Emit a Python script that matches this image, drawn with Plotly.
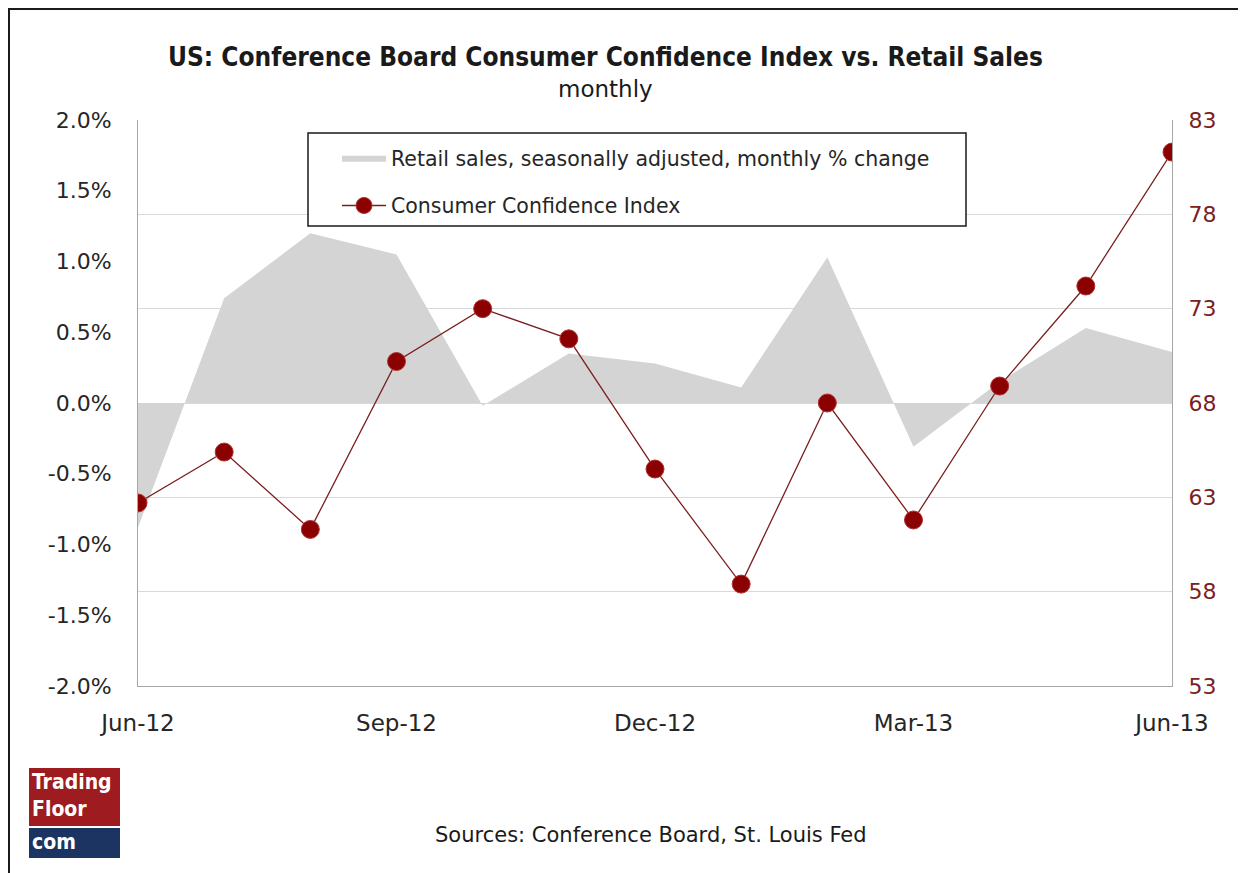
import plotly.graph_objects as go

# monthly categories, Jun-12 .. Jun-13
months = ["Jun-12", "Jul-12", "Aug-12", "Sep-12", "Oct-12", "Nov-12", "Dec-12",
          "Jan-13", "Feb-13", "Mar-13", "Apr-13", "May-13", "Jun-13"]
tick_months = ["Jun-12", "Sep-12", "Dec-12", "Mar-13", "Jun-13"]

# retail sales, seasonally adjusted, monthly % change
retail_sales = [-0.88, 0.74, 1.20, 1.05, -0.02, 0.35, 0.28, 0.11, 1.03, -0.31, 0.15, 0.53, 0.36]

# Conference Board consumer confidence index
cci = [62.7, 65.4, 61.3, 70.2, 73.0, 71.4, 64.5, 58.4, 68.0, 61.8, 68.9, 74.2, 81.3]

left_ticks = [-2.0, -1.5, -1.0, -0.5, 0.0, 0.5, 1.0, 1.5, 2.0]
left_labels = ["%.1f%%" % v for v in left_ticks]
right_ticks = [53, 58, 63, 68, 73, 78, 83]

FONT = "DejaVu Sans, Verdana, sans-serif"
FONT_NARROW = "DejaVu Sans Condensed, DejaVu Sans, sans-serif"
TEXT = "#262626"
GRID = "#D9D9D9"
AXIS = "#A6A6A6"
RED = "#8B0000"

# page is drawn with an 8px body margin, so work in screen pixels and shift
OFF = 8
W, H = 1246, 873
L, R, T, B = 138, 1172, 120, 686


def px(x):
    return (x - L) / (R - L)


def py(y):
    return (B - y) / (B - T)


fig = go.Figure()

fig.add_trace(go.Scatter(
    x=months, y=retail_sales,
    name="Retail sales, seasonally adjusted, monthly % change",
    legendgroup="a",
    mode="lines", fill="tozeroy",
    fillcolor="#D4D4D4", line=dict(color="#D4D4D4", width=0),
    yaxis="y",
))

fig.add_trace(go.Scatter(
    x=months, y=cci,
    name="Consumer Confidence Index",
    legendgroup="b",
    mode="lines+markers",
    line=dict(color="#7A1F1F", width=1.3),
    marker=dict(size=18, color=RED, line=dict(color="#B03030", width=1)),
    yaxis="y2",
))

fig.update_layout(
    width=W, height=H,
    margin=dict(l=L - OFF, r=W - (R - OFF), t=T - OFF, b=H - (B - OFF)),
    paper_bgcolor="white",
    plot_bgcolor="white",
    font=dict(family=FONT, color=TEXT, size=18),
    showlegend=True,
    legend=dict(
        x=px(337), y=py(138), xanchor="left", yanchor="top",
        bgcolor="rgba(0,0,0,0)", borderwidth=0,
        font=dict(size=20.5, color=TEXT),
        traceorder="grouped", tracegroupgap=18, itemwidth=44,
    ),
    xaxis=dict(
        type="category", range=[0, 12],
        tickvals=tick_months, ticktext=tick_months,
        showgrid=False, zeroline=False,
        showline=True, linecolor=AXIS, linewidth=1,
        ticks="", tickfont=dict(size=23, color=TEXT),
        ticklabelstandoff=16,
    ),
    yaxis=dict(
        range=[-2, 2], tickvals=left_ticks, ticktext=left_labels,
        showgrid=False, zeroline=False,
        showline=True, linecolor=AXIS, linewidth=1,
        ticks="", tickfont=dict(size=22, color=TEXT),
        ticklabelstandoff=21,
    ),
    yaxis2=dict(
        range=[53, 83], tickvals=right_ticks,
        overlaying="y", side="right",
        showgrid=True, gridcolor=GRID, gridwidth=1,
        zeroline=False,
        showline=True, linecolor=AXIS, linewidth=1,
        ticks="", tickfont=dict(size=22, color="#7B2121"),
        ticklabelstandoff=11,
    ),
)

# legend box
fig.add_shape(type="rect", xref="paper", yref="paper",
              x0=px(308), x1=px(966), y0=py(226), y1=py(133),
              fillcolor="white", line=dict(color="#1A1A1A", width=1.5),
              layer="above")

# outer frame of the picture
fig.add_shape(type="rect", xref="paper", yref="paper",
              x0=px(9), x1=px(1239), y0=py(900), y1=py(9),
              line=dict(color="#1A1A1A", width=2), layer="above")

# titles and source note
fig.add_annotation(text="<b>US: Conference Board Consumer Confidence Index vs. Retail Sales</b>",
                   xref="paper", yref="paper", x=px(605), y=py(57),
                   xanchor="center", yanchor="middle",
                   showarrow=False, font=dict(size=26, color="#1A1A1A", family=FONT_NARROW))
fig.add_annotation(text="monthly",
                   xref="paper", yref="paper", x=px(605), y=py(89),
                   xanchor="center", yanchor="middle",
                   showarrow=False, font=dict(size=23, color="#1A1A1A"))
fig.add_annotation(text="Sources: Conference Board, St. Louis Fed",
                   xref="paper", yref="paper", x=px(651), y=py(835),
                   xanchor="center", yanchor="middle",
                   showarrow=False, font=dict(size=21, color="#1A1A1A"))

# TradingFloor.com logo
LOGO_FONT = "Liberation Sans Narrow, DejaVu Sans Condensed, sans-serif"
fig.add_shape(type="rect", xref="paper", yref="paper",
              x0=px(29), x1=px(120), y0=py(826), y1=py(768),
              fillcolor="#9E1B1F", line=dict(width=0), layer="above")
fig.add_shape(type="rect", xref="paper", yref="paper",
              x0=px(29), x1=px(120), y0=py(858), y1=py(828),
              fillcolor="#1B3461", line=dict(width=0), layer="above")
fig.add_shape(type="line", xref="paper", yref="paper",
              x0=px(31), x1=px(120), y0=py(827), y1=py(827),
              line=dict(color="white", width=1.5), layer="above")
fig.add_annotation(text="<b>Trading</b><br><b>Floor</b>", xref="paper", yref="paper",
                   x=px(30), y=py(768), xanchor="left", yanchor="top", align="left",
                   showarrow=False,
                   font=dict(size=21, color="white", family=LOGO_FONT))
fig.add_annotation(text="<b>com</b>", xref="paper", yref="paper",
                   x=px(30), y=py(842), xanchor="left", yanchor="middle",
                   showarrow=False,
                   font=dict(size=21, color="white", family=LOGO_FONT))

fig.write_html("out.html")
